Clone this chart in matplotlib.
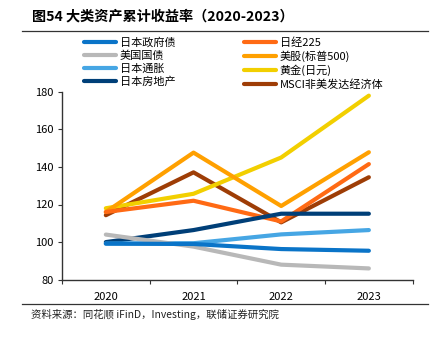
import matplotlib
matplotlib.use("Agg")
import matplotlib.pyplot as plt
from matplotlib.lines import Line2D

plt.rcParams['font.family'] = ['Noto Sans CJK SC', 'DejaVu Sans']

years = ["2020", "2021", "2022", "2023"]

jp_gov_bond = [99.2, 99.0, 96.3, 95.4]
us_treasury = [104.0, 97.6, 88.0, 86.0]
jp_inflation = [99.2, 99.4, 104.1, 106.4]
jp_real_estate = [100.0, 106.4, 115.1, 115.1]
nikkei225 = [116.0, 122.0, 111.0, 141.5]
sp500 = [116.0, 147.6, 119.2, 147.8]
gold_jpy = [118.0, 125.7, 145.0, 177.9]
msci_exus = [114.3, 137.1, 110.5, 134.5]

series = [
    ("日本政府债", jp_gov_bond, "#0a74c8"),
    ("美国国债", us_treasury, "#b8b8b8"),
    ("日本通胀", jp_inflation, "#46a6e4"),
    ("日本房地产", jp_real_estate, "#003f78"),
    ("日经225", nikkei225, "#ff6a14"),
    ("美股(标普500)", sp500, "#ffa000"),
    ("黄金(日元)", gold_jpy, "#f2cf00"),
    ("MSCI非美发达经济体", msci_exus, "#9e3d06"),
]

W, H = 439, 341
fig = plt.figure(figsize=(W / 100, H / 100), dpi=100)
ax = fig.add_axes([62 / W, 1 - 279.7 / H, (412.7 - 62) / W, (279.7 - 91.7) / H])

xs = [i + 0.5 for i in range(len(years))]
# draw in reverse so the first series sits on top
for name, vals, col in series[::-1]:
    ax.plot(xs, vals, color=col, lw=3.0, solid_capstyle='round', solid_joinstyle='round')

ax.set_xlim(0, 4)
ax.set_ylim(80, 180)
ax.set_yticks(range(80, 181, 20))
ax.set_xticks(range(0, 5))
ax.set_xticklabels([])
ax.set_xticks(xs, minor=True)
ax.set_xticklabels(years, minor=True)
ax.tick_params(axis='x', which='minor', length=0, pad=9, labelsize=8)
ax.tick_params(axis='x', which='major', length=3, direction='out', color='#333333')
ax.tick_params(axis='y', length=3, direction='out', labelsize=8, color='#333333', pad=3)
for s in ['top', 'right']:
    ax.spines[s].set_visible(False)
for s in ['left', 'bottom']:
    ax.spines[s].set_color('#333333')
    ax.spines[s].set_linewidth(1.0)

# legend, two columns
def make_legend(items, x_px):
    handles = [Line2D([0], [0], color=c, lw=3.0, solid_capstyle='round') for _, _, c in items]
    labels = [n for n, _, _ in items]
    leg = fig.legend(handles, labels, loc='upper left',
                     bbox_to_anchor=(x_px / W, 1 - 37.5 / H),
                     frameon=False, fontsize=8, handlelength=2.9,
                     handletextpad=0.3, labelspacing=0.24, borderpad=0,
                     borderaxespad=0)
    return leg

make_legend(series[:4], 84)
make_legend(series[4:], 244)

fig.text(32 / W, 1 - 16 / H, "图54 大类资产累计收益率（2020-2023）",
         fontsize=10.2, fontweight='bold', va='center', ha='left')
fig.add_artist(Line2D([22 / W, 428 / W], [1 - 30.5 / H] * 2, color='#333333', lw=0.9))
fig.add_artist(Line2D([22 / W, 428 / W], [1 - 304 / H] * 2, color='#333333', lw=0.9))
fig.text(31 / W, 1 - 314 / H, "资料来源：同花顺 iFinD，Investing，联储证券研究院",
         fontsize=7.5, va='center', ha='left', color='#222222')

fig.savefig("out.png", dpi=100)
